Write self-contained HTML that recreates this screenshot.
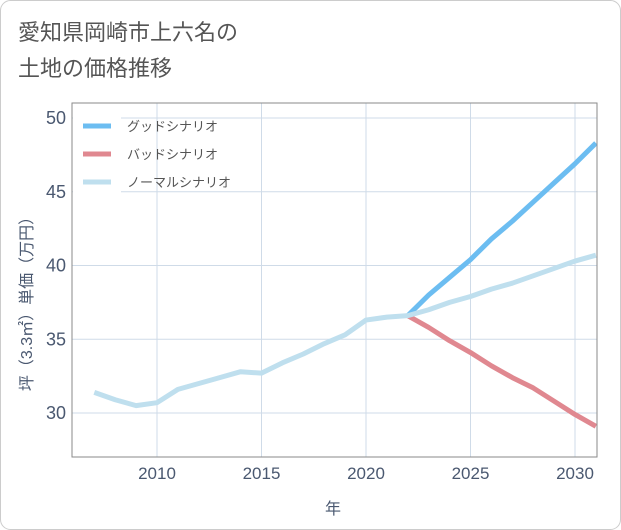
<!DOCTYPE html>
<html><head><meta charset="utf-8"><style>
body{margin:0;background:#fff;}
svg{display:block;font-family:"Liberation Sans","Noto Sans CJK JP",sans-serif;}
</style></head><body>
<svg id="c" width="621" height="530">
<rect x="0.5" y="0.5" width="620" height="529" rx="10" fill="#fff" stroke="#ccc"/>
<text x="18" y="40" font-size="22" fill="#555">愛知県岡崎市上六名の</text>
<text x="18" y="76" font-size="22" fill="#555">土地の価格推移</text>
<g id="grid"></g><g id="series"></g>
<rect x="72" y="103" width="525" height="354" fill="none" stroke="#8a8a8a" stroke-width="1"/>
<rect x="73" y="104" width="48" height="92" fill="#fff"/>
<g>
<line x1="83" y1="126" x2="111" y2="126" stroke="#6cbdf1" stroke-width="5"/>
<text x="127" y="131" font-size="13" fill="#555">グッドシナリオ</text>
<line x1="83" y1="154" x2="111" y2="154" stroke="#e08890" stroke-width="5"/>
<text x="127" y="159" font-size="13" fill="#555">バッドシナリオ</text>
<line x1="83" y1="182" x2="111" y2="182" stroke="#bfdfee" stroke-width="5"/>
<text x="127" y="187" font-size="13" fill="#555">ノーマルシナリオ</text>
</g>
<text x="333" y="514" font-size="16" fill="#4a5870" text-anchor="middle">年</text>
<text transform="translate(32,300) rotate(-90)" font-size="16" fill="#4a5870" text-anchor="middle">坪（3.3㎡）単価（万円）</text>
</svg>
<script>
const years=[2007,2008,2009,2010,2011,2012,2013,2014,2015,2016,2017,2018,2019,2020,2021,2022,2023,2024,2025,2026,2027,2028,2029,2030,2031];
const normalVals=[31.4,30.9,30.5,30.7,31.6,32.0,32.4,32.8,32.7,33.4,34.0,34.7,35.3,36.3,36.5,36.6,37.0,37.5,37.9,38.4,38.8,39.3,39.8,40.3,40.7];
const scenYears=[2022,2023,2024,2025,2026,2027,2028,2029,2030,2031];
const goodVals=[36.6,38.0,39.2,40.4,41.8,43.0,44.3,45.6,46.9,48.3];
const badVals=[36.6,35.8,34.9,34.1,33.2,32.4,31.7,30.8,29.9,29.1];
const xTicks=[2010,2015,2020,2025,2030];
const yTicks=[30,35,40,45,50];
const NS="http://www.w3.org/2000/svg";
const X=y=>157+(y-2010)*20.9;
const Y=v=>413-(v-30)*14.75;
const grid=document.getElementById('grid'),ser=document.getElementById('series');
xTicks.forEach(t=>{
 const l=document.createElementNS(NS,'line');
 l.setAttribute('x1',X(t));l.setAttribute('x2',X(t));l.setAttribute('y1',103);l.setAttribute('y2',457);
 l.setAttribute('stroke','#cfdbe8');
 
 
 grid.appendChild(l);
 const tx=document.createElementNS(NS,'text');
 tx.setAttribute('x',X(t));tx.setAttribute('y',479);tx.setAttribute('text-anchor','middle');
 tx.setAttribute('font-size','17');tx.setAttribute('fill','#4a5870');tx.textContent=t;
 
 
 grid.appendChild(tx);
});
yTicks.forEach(t=>{
 const l=document.createElementNS(NS,'line');
 l.setAttribute('x1',72);l.setAttribute('x2',597);l.setAttribute('y1',Y(t));l.setAttribute('y2',Y(t));
 l.setAttribute('stroke','#cfdbe8');
 
 
 grid.appendChild(l);
 const tx=document.createElementNS(NS,'text');
 tx.setAttribute('x',66);tx.setAttribute('y',Y(t)+6);tx.setAttribute('text-anchor','end');
 tx.setAttribute('font-size','18');tx.setAttribute('fill','#4a5870');tx.textContent=t;
 
 
 grid.appendChild(tx);
});
function line(xs,vs,color,name){
 const p=document.createElementNS(NS,'polyline');
 p.setAttribute('points',xs.map((y,i)=>X(y)+','+Y(vs[i])).join(' '));
 p.setAttribute('fill','none');p.setAttribute('stroke',color);p.setAttribute('stroke-width','5');
 p.setAttribute('stroke-linejoin','round');
 
 
 ser.appendChild(p);
}
line(scenYears,goodVals,'#6cbdf1','good-scenario-line');
line(scenYears,badVals,'#e08890','bad-scenario-line');
line(years,normalVals,'#bfdfee','normal-scenario-line');
</script>
</body></html>
